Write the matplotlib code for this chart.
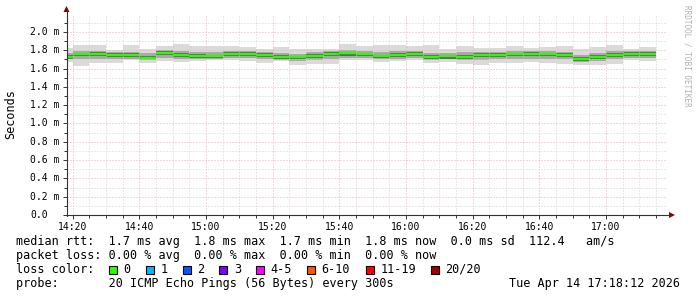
import matplotlib
matplotlib.use("Agg")
import matplotlib.pyplot as plt
from matplotlib.transforms import blended_transform_factory
from matplotlib.patches import Polygon, Rectangle
from matplotlib.lines import Line2D

# ---------------- data ----------------
first_bin = "14:15"          # start of first 5-minute bin
bin_minutes = 5
median = [1.731, 1.758, 1.760, 1.749, 1.749, 1.721, 1.773, 1.754, 1.742, 1.736,
          1.760, 1.760, 1.749, 1.726, 1.726, 1.738, 1.760, 1.767, 1.758, 1.736,
          1.754, 1.762, 1.727, 1.734, 1.731, 1.749, 1.752, 1.758, 1.760, 1.758,
          1.749, 1.705, 1.731, 1.753, 1.764, 1.764]
hi_max = [1.820, 1.855, 1.855, 1.805, 1.855, 1.818, 1.844, 1.866, 1.844, 1.844,
          1.844, 1.840, 1.818, 1.836, 1.810, 1.818, 1.818, 1.866, 1.844, 1.855,
          1.855, 1.844, 1.855, 1.818, 1.844, 1.830, 1.830, 1.844, 1.830, 1.836,
          1.844, 1.818, 1.836, 1.855, 1.818, 1.836]
lo_min = [1.670, 1.628, 1.661, 1.661, 1.690, 1.661, 1.683, 1.672, 1.683, 1.690,
          1.698, 1.683, 1.661, 1.683, 1.644, 1.654, 1.650, 1.690, 1.698, 1.672,
          1.683, 1.698, 1.661, 1.672, 1.650, 1.636, 1.661, 1.661, 1.675, 1.661,
          1.654, 1.636, 1.644, 1.654, 1.690, 1.683]
hi_mid = [1.77, 1.79, 1.79, 1.78, 1.78, 1.77, 1.80, 1.79, 1.78, 1.78,
          1.79, 1.79, 1.78, 1.77, 1.76, 1.78, 1.79, 1.80, 1.79, 1.78,
          1.79, 1.79, 1.77, 1.77, 1.78, 1.78, 1.78, 1.79, 1.79, 1.79,
          1.78, 1.75, 1.77, 1.79, 1.79, 1.79]
lo_mid = [1.70, 1.70, 1.71, 1.70, 1.71, 1.69, 1.72, 1.71, 1.70, 1.70,
          1.72, 1.72, 1.70, 1.69, 1.68, 1.69, 1.70, 1.72, 1.72, 1.70,
          1.71, 1.72, 1.69, 1.70, 1.69, 1.69, 1.70, 1.71, 1.71, 1.71,
          1.70, 1.67, 1.68, 1.70, 1.72, 1.72]
hi_in = [1.748, 1.774, 1.776, 1.766, 1.766, 1.742, 1.789, 1.772, 1.760, 1.754,
         1.776, 1.776, 1.766, 1.744, 1.742, 1.756, 1.776, 1.784, 1.774, 1.754,
         1.770, 1.778, 1.746, 1.752, 1.749, 1.766, 1.769, 1.774, 1.776, 1.774,
         1.766, 1.726, 1.749, 1.770, 1.780, 1.780]
lo_in = [1.710, 1.733, 1.737, 1.725, 1.727, 1.700, 1.747, 1.730, 1.717, 1.713,
         1.737, 1.737, 1.725, 1.703, 1.703, 1.715, 1.735, 1.743, 1.735, 1.713,
         1.730, 1.739, 1.703, 1.710, 1.707, 1.725, 1.729, 1.735, 1.737, 1.735,
         1.725, 1.683, 1.707, 1.730, 1.741, 1.741]

x_tick_labels = ["14:20", "14:40", "15:00", "15:20", "15:40", "16:00", "16:20", "16:40", "17:00"]
y_tick_values = [0.0, 0.2, 0.4, 0.6, 0.8, 1.0, 1.2, 1.4, 1.6, 1.8, 2.0]
y_tick_labels = ["0.0", "0.2 m", "0.4 m", "0.6 m", "0.8 m", "1.0 m", "1.2 m", "1.4 m",
                 "1.6 m", "1.8 m", "2.0 m"]
time_start = "14:18:12"
time_end = "17:18:12"

loss_labels = ["0", "1", "2", "3", "4-5", "6-10", "11-19", "20/20"]
loss_colors = ["#26ff00", "#00b8ff", "#0059ff", "#7e00ff", "#ff00ff", "#ff5500", "#ff0000", "#a10000"]

legend_lines = [
    "median rtt:  1.7 ms avg  1.8 ms max  1.7 ms min  1.8 ms now  0.0 ms sd  112.4   am/s",
    "packet loss: 0.00 % avg  0.00 % max  0.00 % min  0.00 % now",
    "loss color:",
    "probe:       20 ICMP Echo Pings (56 Bytes) every 300s",
]
date_text = "Tue Apr 14 17:18:12 2026"
y_title = "Seconds"
watermark = "RRDTOOL / TOBI OETIKER"


def hm(s):
    p = [float(v) for v in s.split(":")]
    return p[0] * 60 + p[1] + (p[2] / 60 if len(p) > 2 else 0)


W, H = 697, 297
fig = plt.figure(figsize=(W / 100, H / 100), dpi=100)
fig.patch.set_facecolor("white")

# plot area in pixels
L, R, T, B = 66.5, 666.5, 15, 215
ax = fig.add_axes([L / W, (H - B) / H, (R - L) / W, (B - T) / H])
ax.set_facecolor("white")
x0, x1 = hm(time_start), hm(time_end)
ymax = 2.0 * (B - T) / (B - 32)
ax.set_xlim(x0, x1)
ax.set_ylim(0, ymax)
for s in ax.spines.values():
    s.set_visible(False)

xs = [hm(first_bin) + bin_minutes * i for i in range(len(median))]

def band(lo, hi, color):
    ax.bar(xs, [h - l for h, l in zip(hi, lo)], bottom=lo, width=bin_minutes,
           align="edge", color=color, linewidth=0, antialiased=False, zorder=2)

band(lo_min, hi_max, "#dadada")
band(lo_mid, hi_mid, "#a8a8a8")
band(lo_in, hi_in, "#636363")
ax.hlines(median, xs, [x + bin_minutes for x in xs], color=loss_colors[0], lw=1.7, zorder=4)

# grid (drawn above smoke like rrdtool)
dots = (0, (1, 2))
minor_col, major_col = "#d4d4d4", "#eeb0b0"
k = 1
while k * 0.1 < ymax:
    v = k * 0.1
    col = major_col if k % 2 == 0 else minor_col
    ax.axhline(v, color=col, lw=0.72, ls=dots, zorder=3)
    k += 1
t = hm("14:20")
while t < x1:
    col = major_col if int(round(t - hm("14:20"))) % 20 == 0 else minor_col
    ax.axvline(t, color=col, lw=0.72, ls=dots, zorder=3)
    t += 5

# ticks
xt = [hm(s) for s in x_tick_labels]
ax.set_xticks(xt, x_tick_labels, fontsize=7, family="DejaVu Sans Mono")
ax.set_xticks([hm("14:20") + 5 * i for i in range(36) if hm("14:20") + 5 * i < x1], minor=True)
ax.tick_params(axis="x", which="major", length=3, width=0.7, color="#333333", pad=2)
ax.tick_params(axis="x", which="minor", length=2, width=0.7, color="#333333")
ax.set_yticks(y_tick_values, [""] * len(y_tick_values))
ax.set_yticks([0.1 + 0.2 * i for i in range(11)], minor=True)
ax.tick_params(axis="y", which="major", length=3, width=0.7, color="#333333")
ax.tick_params(axis="y", which="minor", length=2, width=0.7, color="#333333")

ytr = blended_transform_factory(fig.transFigure, ax.transData)
for v, lab in zip(y_tick_values, y_tick_labels):
    ax.text(30 / W, v, lab, transform=ytr, ha="left", va="center", fontsize=7,
            family="DejaVu Sans Mono", color="#000000", clip_on=False)


def px(x, y):
    return (x / W, (H - y) / H)


# axes with arrows
fig.add_artist(Line2D([px(L, 0)[0], px(L, 0)[0]], [px(0, B + 1)[1], px(0, 10)[1]],
                      transform=fig.transFigure, color="#333333", lw=0.8))
fig.add_artist(Line2D([px(L - 1, 0)[0], px(671, 0)[0]], [px(0, B)[1], px(0, B)[1]],
                      transform=fig.transFigure, color="#333333", lw=0.8))
fig.add_artist(Polygon([px(L - 3, 12), px(L + 3, 12), px(L, 6)], closed=True,
                       transform=fig.transFigure, color="#8b0000", lw=0))
fig.add_artist(Polygon([px(669, B - 3), px(669, B + 3), px(675, B)], closed=True,
                       transform=fig.transFigure, color="#8b0000", lw=0))

# y title
fig.text(11 / W, (H - 114) / H, y_title, rotation=90, ha="center", va="center",
         fontsize=8.5, family="DejaVu Sans Mono")

# watermark
fig.text(687 / W, (H - 5) / H, watermark, rotation=270, ha="center", va="top",
         fontsize=5.5, family="DejaVu Sans Mono", color="#b0b0b0")

# legend
ys = [241.5, 255.5, 269.5, 283.5]
for line, yy in zip(legend_lines, ys):
    fig.text(16 / W, (H - yy) / H, line, ha="left", va="center", fontsize=8.5,
             family="DejaVu Sans Mono")
fig.text(680 / W, (H - ys[3]) / H, date_text, ha="right", va="center", fontsize=8.5,
         family="DejaVu Sans Mono")

box_x = [108.7, 146, 182.7, 219.3, 256, 306.7, 365.7, 431]
for bx, col, lab in zip(box_x, loss_colors, loss_labels):
    fig.add_artist(Rectangle(px(bx, ys[2] + 4), 8 / W, 8 / H, transform=fig.transFigure,
                             facecolor=col, edgecolor="black", lw=0.8))
    fig.text((bx + 14.5) / W, (H - ys[2]) / H, lab, ha="left", va="center", fontsize=8.5,
             family="DejaVu Sans Mono")

fig.savefig("out.png", dpi=100, facecolor="white")
